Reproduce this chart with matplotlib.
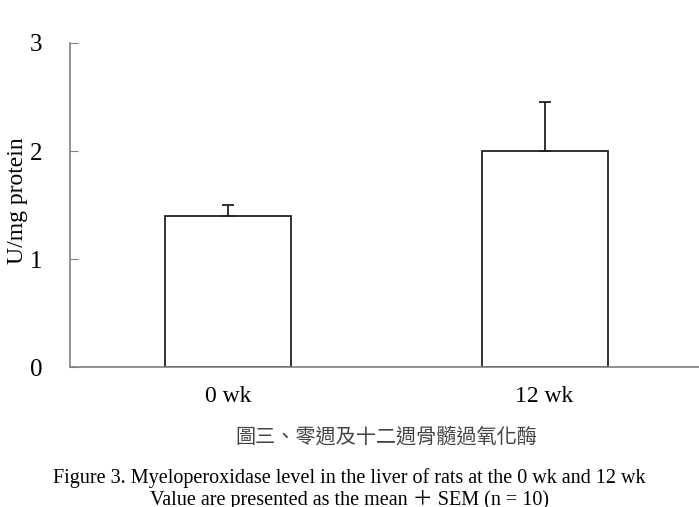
import matplotlib
matplotlib.use("Agg")
import matplotlib.pyplot as plt

# data
groups = ["0 wk", "12 wk"]
means = [1.4, 2.0]
sem = [0.1, 0.45]
yticks = [0, 1, 2, 3]

serif = "Liberation Serif"
axis_grey = "#808080"

fig = plt.figure(figsize=(6.99, 5.07), dpi=100)
ax = fig.add_axes([0.1001, 0.2761, 0.8999, 0.6391])

x = list(range(len(groups)))
ax.bar(x, means, width=0.398, color="white", edgecolor="#222222", linewidth=1.3,
       yerr=[[0] * len(sem), sem], capsize=4,
       error_kw=dict(ecolor="#222222", elinewidth=1.3, capthick=1.3))

ax.set_xlim(-0.499, 1.488)
ax.set_ylim(0, 3)
ax.set_yticks(yticks)
ax.set_yticklabels([str(t) for t in yticks], fontfamily=serif, fontsize=18)
ax.set_xticks(x)
ax.set_xticklabels(groups, fontfamily=serif, fontsize=17)
ax.tick_params(axis="x", length=0, pad=14)
ax.tick_params(axis="y", direction="in", length=6, color=axis_grey, pad=20)

for s in ["top", "right"]:
    ax.spines[s].set_visible(False)
ax.spines["left"].set_color(axis_grey)
ax.spines["bottom"].set_color(axis_grey)
ax.spines["left"].set_linewidth(1.2)
ax.spines["bottom"].set_linewidth(1.2)

ax.set_ylabel("U/mg protein", fontfamily=serif, fontsize=17)
ax.yaxis.set_label_coords(-0.066, 0.512)

# captions below the chart
fig.text(0.552, 0.138, "圖三、零週及十二週骨髓過氧化酶", ha="center", va="center",
         fontfamily=["Noto Sans CJK TC", "DejaVu Sans"], fontsize=14.5,
         fontweight="light", color="#444444")
fig.text(0.5, 0.057, "Figure 3. Myeloperoxidase level in the liver of rats at the 0 wk and 12 wk",
         ha="center", va="center", fontfamily=serif, fontsize=14.5)
fig.text(0.5, 0.013, "Value are presented as the mean \uff0b SEM (n = 10)",
         ha="center", va="center", fontfamily=[serif, "Noto Sans CJK TC"], fontsize=14.5)

fig.savefig("out.png", dpi=100)
